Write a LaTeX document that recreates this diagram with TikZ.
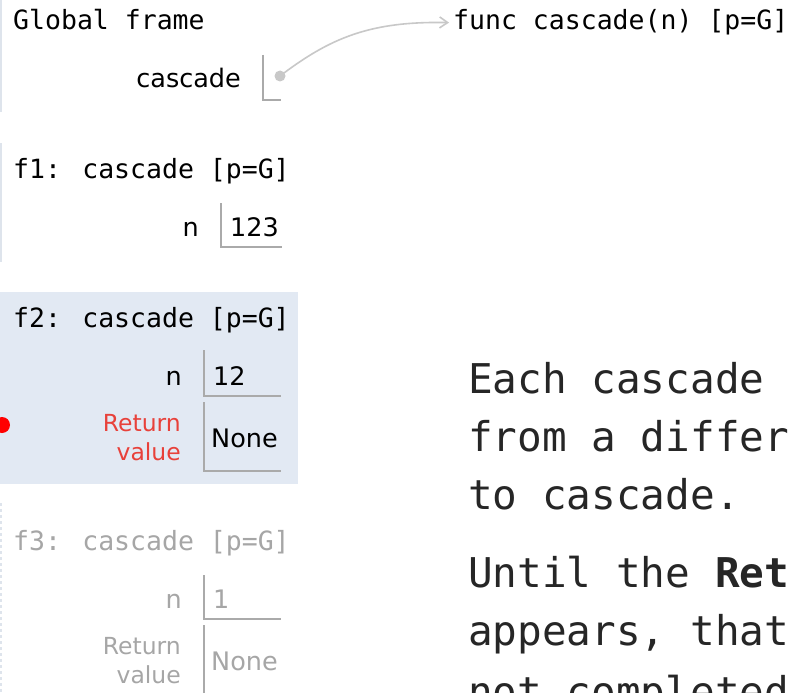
\documentclass[tikz,border=0pt]{standalone}
\usepackage{fontspec}
\setmainfont{DejaVu Sans}
\newfontfamily\framefont{DejaVu Sans Mono}
\newfontfamily\notefont{DejaVu Sans Mono}
\usetikzlibrary{arrows.meta}
\definecolor{framebg}{RGB}{226,233,243}
\definecolor{frameedge}{RGB}{222,228,236}
\definecolor{boxline}{RGB}{170,170,170}
\definecolor{ptrgray}{RGB}{200,200,200}
\definecolor{retred}{RGB}{232,65,58}
\definecolor{zombie}{RGB}{166,166,166}
\definecolor{notetext}{RGB}{38,38,38}

\begin{document}
\begin{tikzpicture}[x=1pt,y=-1pt,
        framelabel/.style={anchor=base west,inner sep=0pt,font=\framefont\fontsize{26.5}{30}\selectfont},
        varname/.style={anchor=base east,inner sep=0pt,font=\fontsize{25.5}{30}\selectfont},
        valtext/.style={anchor=base west,inner sep=0pt,font=\fontsize{25.5}{30}\selectfont},
        retlabel/.style={anchor=east,inner sep=0pt,align=right,font=\fontsize{23.5}{29}\selectfont},
        valbox/.style={draw=boxline,line width=1.3pt},
        edgeline/.style={draw=frameedge,line width=1.5pt},
        noteline/.style={anchor=base west,inner sep=0pt,text=notetext,font=\notefont\fontsize{41}{58}\selectfont}]
                \useasboundingbox (0,0) rectangle (790,693);
                \clip (0,0) rectangle (790,693);
                \fill[white] (0,0) rectangle (790,693);

                \draw[edgeline] (1,0) -- (1,112);
                \node[framelabel] (globalhead) at (13,30) {Global frame};
                \node[varname] (cascadename) at (241,88) {cascade};
                \draw[valbox] (263,55) -- (263,100) -- (281,100);
                \coordinate (ptr) at (280,76);
                \fill[ptrgray] (ptr) circle (5.5);
                \node[framelabel] (funcobj) at (453,30) {func cascade(n) [p=G]};
                \draw[ptrgray,line width=1.6pt,-{Straight Barb[length=8pt,width=11pt]},shorten >=4pt]
                    (ptr) .. controls (330,38) and (370,21) .. (funcobj.west);

                \draw[edgeline] (1,143) -- (1,262);
                \node[framelabel] (fonehead) at (13,178) {f1: cascade [p=G]};
                \node[varname] (fonen) at (199,236) {n};
                \node[valtext] (fonenval) at (230,236) {123};
                \draw[valbox] (221,203) -- (221,247) -- (282,247);

                \fill[framebg] (0,292) rectangle (298,484);
                \node[framelabel] (ftwohead) at (13,327) {f2: cascade [p=G]};
                \node[varname] (ftwon) at (182,385) {n};
                \node[valtext] (ftwonval) at (213,385) {12};
                \draw[valbox] (204,350) -- (204,396) -- (281,396);
                \node[retlabel,text=retred] (ftworet) at (181,438) {Return\\value};
                \node[valtext] (ftworetval) at (211,447) {None};
                \draw[valbox] (204,402) -- (204,471) -- (281,471);
                \fill[red] (2,425) circle (8);

                \draw[edgeline,dashed] (1,503) -- (1,693);
                \node[framelabel,text=zombie] (fthreehead) at (13,550) {f3: cascade [p=G]};
                \node[varname,text=zombie] (fthreen) at (182,608) {n};
                \node[valtext,text=zombie] (fthreenval) at (213,608) {1};
                \draw[valbox] (204,575) -- (204,619) -- (281,619);
                \node[retlabel,text=zombie] (fthreeret) at (181,661) {Return\\value};
                \node[valtext,text=zombie] (fthreeretval) at (211,670) {None};
                \draw[valbox] (204,625) -- (204,700);

                \node[noteline] (noteone) at (468,393) {Each cascade};
                \node[noteline] (notetwo) at (468,451) {from a differ};
                \node[noteline] (notethree) at (468,509) {to cascade.};
                \node[noteline] (notefour) at (468,587) {Until the \textbf{Ret}};
                \node[noteline] (notefive) at (468,645) {appears, that};
                \node[noteline] (notesix) at (468,706) {not completed};
            \end{tikzpicture}
\end{document}
